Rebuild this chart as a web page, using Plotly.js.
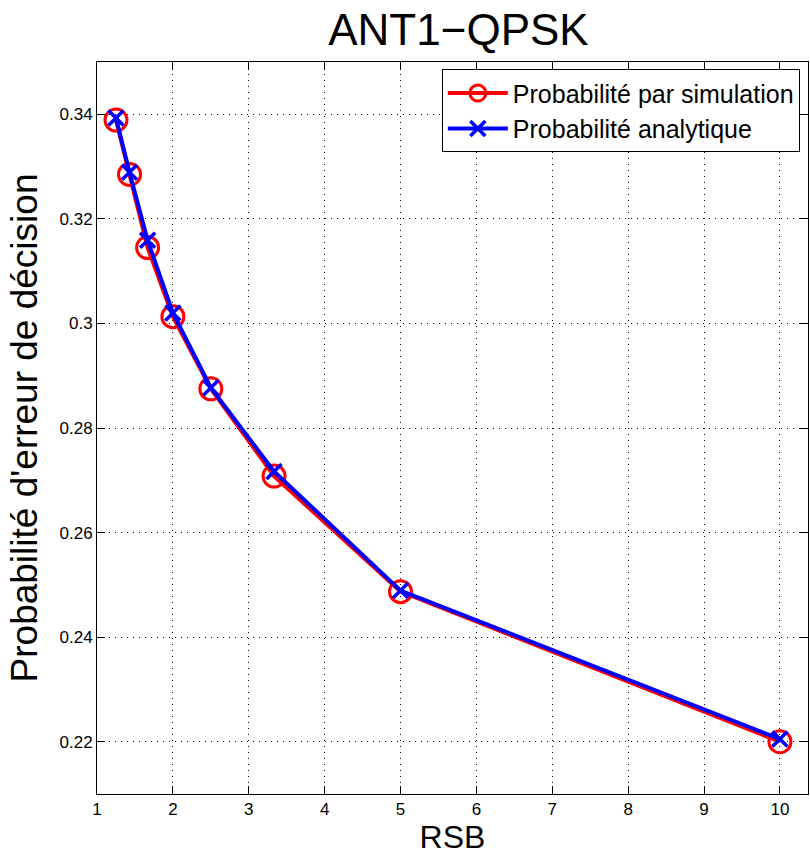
<!DOCTYPE html>
<html>
<head>
<meta charset="utf-8">
<script src="https://cdn.plot.ly/plotly-3.0.1.min.js"></script>
<style>html,body{margin:0;padding:0;background:#fff;}#chart{width:810px;height:856px;}</style>
</head>
<body>
<div id="chart"></div>
<script>
var rsb = [1.25, 1.4286, 1.6667, 2, 2.5, 3.3333, 5, 10];
var probSimulation = [0.3389, 0.3285, 0.3145, 0.3013, 0.2875, 0.2708, 0.2487, 0.2200];
var probAnalytique = [0.3393, 0.3289, 0.3159, 0.3020, 0.2877, 0.2717, 0.2489, 0.2205];
var seriesNames = ['Probabilité par simulation', 'Probabilité analytique'];
var chartTitle = 'ANT1\u2212QPSK';
var xTitle = 'RSB';
var yTitle = "Probabilité d'erreur de décision";

var font = 'Liberation Sans, Arial, Helvetica, sans-serif';

var traces = [
  {
    x: rsb, y: probSimulation, name: seriesNames[0], type: 'scatter', mode: 'lines+markers',
    line: {color: '#ff0000', width: 4},
    marker: {symbol: 'circle-open', size: 22, color: '#ff0000', line: {color: '#ff0000', width: 3}}
  },
  {
    x: rsb, y: probAnalytique, name: seriesNames[1], type: 'scatter', mode: 'lines+markers',
    line: {color: '#0000ff', width: 4},
    marker: {symbol: 'x-thin-open', size: 15, color: '#0000ff', line: {color: '#0000ff', width: 3.5}}
  }
];

var axisCommon = {
  showline: true, linecolor: '#000', linewidth: 1, mirror: 'ticks',
  ticks: 'inside', ticklen: 8, tickcolor: '#000', tickwidth: 1,
  showgrid: true, gridcolor: '#000', gridwidth: 1, griddash: '1px,5px',
  zeroline: false,
  tickfont: {family: font, size: 17, color: '#000'}
};

var layout = {
  width: 810, height: 856,
  margin: {l: 97, r: 2, t: 62, b: 62},
  paper_bgcolor: '#fff', plot_bgcolor: '#fff',
  showlegend: true,
  title: {text: chartTitle, font: {family: font, size: 44, color: '#000'}, x: 0.566, xanchor: 'center', y: 0.966, yanchor: 'middle'},
  xaxis: Object.assign({}, axisCommon, {
    range: [1, 10.37], tick0: 1, dtick: 1,
    title: {text: xTitle, font: {family: font, size: 32, color: '#000'}, standoff: 2}
  }),
  yaxis: Object.assign({}, axisCommon, {
    range: [0.21, 0.35], tick0: 0.22, dtick: 0.02,
    title: {text: yTitle, font: {family: font, size: 37, color: '#000'}, standoff: 10}
  }),
  legend: {
    x: 0.485, y: 0.99, xanchor: 'left', yanchor: 'top',
    bgcolor: '#fff', bordercolor: '#000', borderwidth: 1,
    font: {family: font, size: 25, color: '#000'},
    itemwidth: 60, tracegroupgap: 0
  }
};

Plotly.newPlot('chart', traces, layout, {displayModeBar: false, staticPlot: true});
</script>
</body>
</html>
